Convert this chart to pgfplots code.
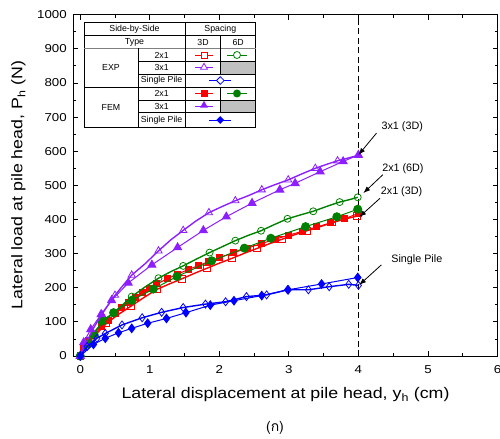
\documentclass[border=0pt]{standalone}
\usepackage{fontspec}
\setmainfont{Liberation Sans}
\newfontfamily\widefont{Liberation Sans}[FakeStretch=1.16]
\newfontfamily\thaifont[Script=Thai]{Loma}
\usepackage{pgfplots}
\pgfplotsset{compat=1.18}
\usetikzlibrary{calc,arrows.meta,shapes.geometric}
\definecolor{cred}{RGB}{255,0,0}
\definecolor{cgreen}{RGB}{0,128,0}
\definecolor{cpurple}{RGB}{140,30,255}
\definecolor{cblue}{RGB}{0,0,255}
\definecolor{cgray}{RGB}{192,192,192}
\begin{document}
\begin{tikzpicture}
\begin{axis}[name=ax, scale only axis, width=424.2bp, height=341.3bp,
  xmin=-0.1, xmax=6, ymin=0, ymax=1000,
  xtick={0,1,2,3,4,5,6}, ytick={0,100,...,1000},
  minor xtick={0.5,1.5,2.5,3.5,4.5,5.5}, minor ytick={50,150,...,950},
  tick align=inside, major tick length=5bp, minor tick length=3bp,
  tick style={black, line width=0.8pt},
  axis line style={line width=1pt},
  ticklabel style={font=\widefont\fontsize{11.5}{12}\selectfont},
  xticklabel style={yshift=-6bp},
  yticklabel style={xshift=-3bp},
  /pgf/number format/assume math mode=true,
  /pgf/number format/1000 sep={},
  clip mode=individual,
]
\addplot[black, line width=1pt, dash pattern=on 6pt off 3.5pt] coordinates {(4,0)(4,1000)};
% EXP 2x1 3D
\addplot[cred, line width=1.4pt, mark=square, mark size=3.2bp, mark options={solid, line width=0.8pt, fill=white},
  mark indices={1,4,6,8,10,12,14,16,18,20,22,24}] coordinates {
(0,0)(0.1,32)(0.2,58)(0.38,96)(0.55,122)(0.73,146)(0.92,172)(1.1,195)(1.28,211)(1.46,226)(1.64,242)(1.82,257)(2.0,272)(2.18,286)(2.36,301)(2.54,315)(2.72,329)(2.9,342)(3.08,355)(3.26,367)(3.45,379)(3.63,391)(3.8,401)(3.98,410)};
% FEM 2x1 3D
\addplot[cred, line width=1pt, mark=square*, mark size=3bp] coordinates {
(0,0)(0.05,25)(0.12,45)(0.2,62)(0.3,85)(0.4,105)(0.5,124)(0.6,141)(0.7,157)(0.8,172)(0.9,186)(1.0,199)(1.1,211)(1.25,226)(1.4,240)(1.55,253)(1.7,265)(1.85,277)(2.0,288)(2.2,302)(2.4,316)(2.6,329)(2.8,342)(3.0,354)(3.2,366)(3.4,378)(3.6,390)(3.8,402)(4.0,418)};
% EXP 2x1 6D
\addplot[cgreen, line width=1.4pt, mark=o, mark size=3.5bp, mark options={solid, line width=0.8pt, fill=white},
  mark indices={5,7,9,11,13,15,17,19,21,23,25}] coordinates {
(0,0)(0.05,25)(0.1,45)(0.2,70)(0.35,104)(0.5,130)(0.74,174)(0.93,202)(1.125,228)(1.3,247)(1.48,264)(1.67,284)(1.86,303)(2.05,321)(2.23,338)(2.41,353)(2.6,367)(2.79,385)(2.98,402)(3.16,413)(3.35,424)(3.54,438)(3.73,451)(3.87,458)(3.99,465)};
% FEM 2x1 6D
\addplot[cgreen, line width=1pt, mark=*, mark size=4bp] coordinates {
(0,0)(0.1,35)(0.2,62)(0.31,103)(0.48,127)(0.74,163)(1.05,196)(1.39,233)(1.89,279)(2.36,316)(2.74,345)(3.24,379)(3.69,408)(3.99,430)};
% EXP 3x1 3D
\addplot[cpurple, line width=1.4pt, mark=triangle, mark size=4.2bp, mark options={solid, line width=0.8pt, fill=white},
  mark indices={5,7,9,11,13,15,17,19,21,23,25,27}] coordinates {
(0,0)(0.05,25)(0.1,45)(0.2,85)(0.31,122)(0.41,152)(0.5,178)(0.62,208)(0.74,237)(0.93,270)(1.125,308)(1.3,340)(1.48,368)(1.66,395)(1.85,420)(2.04,438)(2.23,455)(2.42,470)(2.61,487)(2.8,502)(2.99,516)(3.18,533)(3.38,550)(3.55,562)(3.7,572)(3.85,580)(4.0,588)};
% FEM 3x1 3D
\addplot[cpurple, line width=1pt, mark=triangle*, mark size=4.5bp] coordinates {
(0,0)(0.05,40)(0.15,78)(0.3,122)(0.45,163)(0.69,214)(1.03,267)(1.4,318)(1.77,368)(2.1,408)(2.47,448)(2.87,487)(3.09,506)(3.45,540)(3.78,570)(4.0,589)};
% EXP single
\addplot[cblue, line width=1.4pt, mark=diamond, mark size=4bp, mark options={solid, line width=0.8pt, fill=white}] coordinates {
(0,0)(0.1,28)(0.24,52)(0.36,66)(0.6,91)(0.89,112)(1.17,128)(1.48,142)(1.8,152)(2.09,159)(2.39,174)(2.68,179)(2.98,194)(3.28,194)(3.58,203)(3.86,210)(4.0,207)};
% FEM single
\addplot[cblue, line width=1pt, mark=diamond*, mark size=4.2bp] coordinates {
(0,0)(0.19,34)(0.36,52)(0.55,68)(0.74,81)(0.97,96)(1.24,110)(1.52,127)(1.87,149)(2.21,162)(2.61,177)(2.99,194)(3.47,211)(3.99,230)};
% annotations
\draw[line width=0.8pt, -{Latex[length=7bp,width=5bp]}] (axis cs:4.26,653) -- (axis cs:4.0,589);
\draw[line width=0.8pt, -{Latex[length=7bp,width=5bp]}] (axis cs:4.35,531) -- (axis cs:4.07,477);
\draw[line width=0.8pt, -{Latex[length=7bp,width=5bp]}] (axis cs:4.31,462) -- (axis cs:4.01,407);
\draw[line width=0.8pt, -{Latex[length=7bp,width=5bp]}] (axis cs:4.33,267) -- (axis cs:4.01,208);
\node[font=\fontsize{10.8}{12}\selectfont] at (axis cs:4.63,672) {3x1 (3D)};
\node[font=\fontsize{10.8}{12}\selectfont] at (axis cs:4.64,548) {2x1 (6D)};
\node[font=\fontsize{10.8}{12}\selectfont] at (axis cs:4.62,482) {2x1 (3D)};
\node[font=\fontsize{10.8}{12}\selectfont] at (axis cs:4.84,282) {Single Pile};
\end{axis}
\begin{scope}[shift={($(ax.north west)+(-73.3bp,14.7bp)$)}, x=1bp, y=-1bp]
\pgfresetboundingbox
\path[use as bounding box] (0,0) rectangle (500,439);
\node[rotate=90, font=\widefont\fontsize{15.4}{18}\selectfont] at (18.5,185) {Lateral load at pile head, P\textsubscript{h} (N)};
\node[font=\widefont\fontsize{15.4}{18}\selectfont] at (285.5,395) {Lateral displacement at pile head, y\textsubscript{h} (cm)};
\node[font=\fontsize{14}{16}\selectfont\thaifont] at (275,428) {(ก)};
% legend table
\fill[white] (84,22.5) rectangle (255.7,127.7);
\fill[cgray] (220.7,61.5) rectangle (255.7,74);
\fill[cgray] (220.7,100) rectangle (255.7,112);
\draw[line width=0.7pt] (84,22.5) rectangle (255.7,127.7);
\draw[line width=0.7pt] (84,35.5) -- (255.7,35.5);
\draw[line width=0.7pt, gray] (84,48.5) -- (255.7,48.5);
\draw[line width=0.7pt] (84,87) -- (255.7,87);
\draw[line width=0.7pt] (138.3,61.5) -- (255.7,61.5) (138.3,74) -- (255.7,74);
\draw[line width=0.7pt] (138.3,100) -- (255.7,100) (138.3,112) -- (255.7,112);
\draw[line width=0.7pt] (185,22.5) -- (185,127.7);
\draw[line width=0.7pt] (138.3,48.5) -- (138.3,127.7);
\draw[line width=0.7pt] (220.7,35.5) -- (220.7,74) (220.7,87) -- (220.7,112);
\begin{scope}[font=\fontsize{8.8}{10}\selectfont]
\node at (134.5,29) {Side-by-Side};
\node at (220.3,29) {Spacing};
\node at (134.5,42) {Type};
\node at (203,42) {3D};
\node at (238.2,42) {6D};
\node at (111,67.8) {EXP};
\node at (111,107) {FEM};
\node at (161.6,55) {2x1};
\node at (161.6,67.8) {3x1};
\node at (161.6,80.5) {Single Pile};
\node at (161.6,93.5) {2x1};
\node at (161.6,106) {3x1};
\node at (161.6,120) {Single Pile};
\end{scope}
% legend samples
\draw[cred, line width=0.8pt] (195,55) -- (213,55);
\node[draw=cred, fill=white, line width=0.8pt, minimum size=6bp, inner sep=0pt] at (204,55) {};
\draw[cgreen, line width=0.8pt] (227,55) -- (247,55);
\node[circle, draw=cgreen, fill=white, line width=0.8pt, minimum size=7bp, inner sep=0pt] at (237,55) {};
\draw[cpurple, line width=0.8pt] (195,67.8) -- (213,67.8);
\node[regular polygon, regular polygon sides=3, draw=cpurple, fill=white, line width=0.8pt, minimum size=8bp, inner sep=0pt] at (204,67.3) {};
\draw[cblue, line width=0.8pt] (209,80.5) -- (231,80.5);
\node[diamond, draw=cblue, fill=white, line width=0.8pt, minimum size=8bp, inner sep=0pt] at (220.3,80.5) {};
\draw[cred, line width=0.8pt] (195,93.5) -- (213,93.5);
\node[fill=cred, minimum size=7bp, inner sep=0pt] at (204,93.5) {};
\draw[cgreen, line width=0.8pt] (227,93.5) -- (247,93.5);
\node[circle, fill=cgreen, minimum size=8bp, inner sep=0pt] at (237,93.5) {};
\draw[cpurple, line width=0.8pt] (195,106) -- (213,106);
\node[regular polygon, regular polygon sides=3, fill=cpurple, minimum size=9bp, inner sep=0pt] at (204,105.3) {};
\draw[cblue, line width=0.8pt] (209,120) -- (231,120);
\node[diamond, fill=cblue, minimum size=8bp, inner sep=0pt] at (220.3,120) {};
\end{scope}
\end{tikzpicture}
\end{document}
